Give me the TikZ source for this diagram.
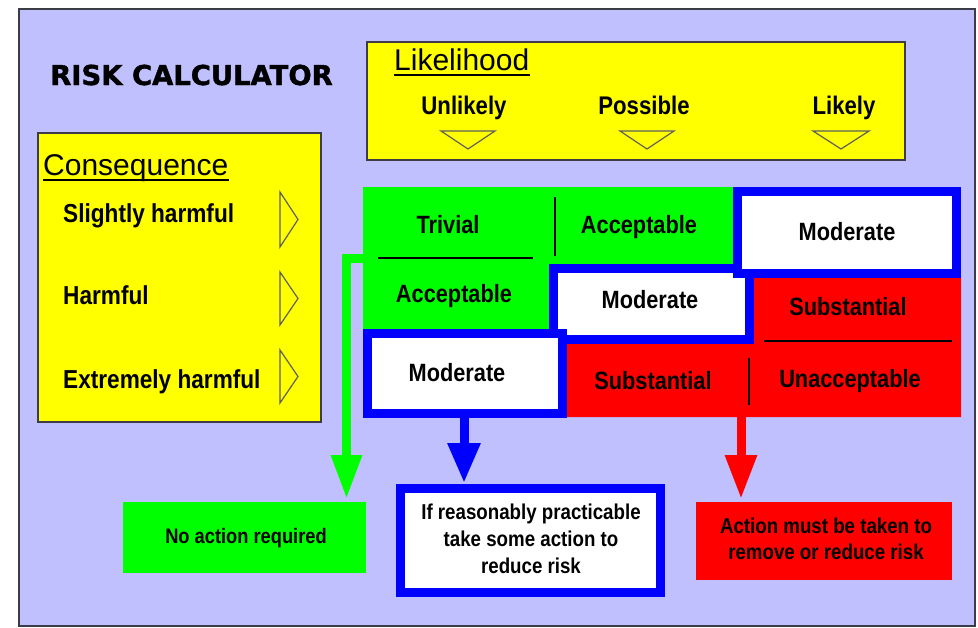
\documentclass[tikz,border=0pt]{standalone}
\usepackage{fontspec}
\setmainfont{Liberation Sans}
\newfontfamily\labfont{Liberation Sans}[FakeStretch=0.87]
\newfontfamily\titlefont{DejaVu Sans}[FakeBold=1.5]
\usetikzlibrary{arrows.meta}
\definecolor{lav}{RGB}{192,192,255}
\definecolor{pgreen}{RGB}{0,255,0}
\definecolor{pblue}{RGB}{0,0,255}
\definecolor{pred}{RGB}{255,0,0}
\definecolor{pyellow}{RGB}{255,255,0}
\definecolor{framec}{RGB}{60,60,70}
\definecolor{trig}{RGB}{95,95,95}
\tikzset{
  panel/.style={draw=framec, fill=pyellow, line width=1.5pt, inner sep=0pt, outer sep=0pt},
  modbox/.style={draw=pblue, fill=white, line width=9pt, inner sep=0pt, outer sep=4.5pt},
  plainbox/.style={inner sep=0pt, outer sep=0pt},
  cell/.style={anchor=base, inner sep=0pt, font=\labfont\bfseries\fontsize{25}{30}\selectfont},
  conlab/.style={anchor=base west, inner sep=0pt, font=\labfont\bfseries\fontsize{26}{30}\selectfont},
  liklab/.style={anchor=base, inner sep=0pt, font=\labfont\bfseries\fontsize{25.5}{30}\selectfont},
  bot/.style={anchor=base, inner sep=0pt, font=\labfont\bfseries\fontsize{21.5}{27}\selectfont},
  head/.style={anchor=base west, inner sep=0pt, font=\fontsize{30}{36}\selectfont},
  uline/.style={line width=2pt, draw=black},
  tri/.style={draw=trig, line width=1.2pt, line join=miter},
  divline/.style={draw=black, line width=1.5pt},
  garrow/.style={draw=pgreen, line width=9pt, line join=miter, -{Triangle[width=29pt,length=44pt]}, shorten >=3pt},
  barrow/.style={draw=pblue, line width=9pt, -{Triangle[width=31pt,length=40pt]}, shorten >=1pt},
  rarrow/.style={draw=pred, line width=9pt, -{Triangle[width=30pt,length=44pt]}, shorten >=3pt}
}
\begin{document}
\begin{tikzpicture}[x=1pt,y=-1pt]
\useasboundingbox (0,0) rectangle (978,627);
\fill[white] (0,0) rectangle (978,627);
\draw[fill=lav, draw=framec, line width=2pt] (19,9) rectangle (975,626);

% title
\node[anchor=base, inner sep=0pt, font=\titlefont\bfseries\fontsize{27.4}{32}\selectfont] (title) at (191.5,85) {RISK CALCULATOR};

% consequence panel
\node[panel, minimum width=283pt, minimum height=289pt] (conbox) at (179.5,277.5) {};
\node[head] (conhead) at (43,175) {Consequence};
\draw[uline] ([yshift=-5pt]conhead.base west) -- ([yshift=-5pt]conhead.base east);
\node[conlab] (slight) at (63,222) {Slightly harmful};
\node[conlab] (harm) at (63,304) {Harmful};
\node[conlab] (extreme) at (63,388) {Extremely harmful};
\draw[tri] (280,192) -- (298,219.5) -- (280,247) -- cycle;
\draw[tri] (280,272) -- (298,298.5) -- (280,325) -- cycle;
\draw[tri] (280,350) -- (298,376.5) -- (280,403) -- cycle;

% likelihood panel
\node[panel, minimum width=538pt, minimum height=118pt] (likbox) at (636,101) {};
\node[head] (likhead) at (394,70) {Likelihood};
\draw[uline] ([yshift=-5pt]likhead.base west) -- ([yshift=-5pt]likhead.base east);
\node[liklab] (unlikely) at (464,114) {Unlikely};
\node[liklab] (possible) at (644,114) {Possible};
\node[liklab] (likely) at (844,114) {Likely};
\draw[tri] (441,131) -- (495,131) -- (468,149) -- cycle;
\draw[tri] (620,131) -- (674,131) -- (647,149) -- cycle;
\draw[tri] (813,131) -- (869,131) -- (841,149) -- cycle;

% matrix regions
\fill[pgreen] (363,187) -- (733,187) -- (733,265) -- (549,265) -- (549,329) -- (363,329) -- cycle;
\fill[pred] (754,278) -- (961,278) -- (961,417) -- (567,417) -- (567,343) -- (754,343) -- cycle;
\node[modbox, minimum width=196pt, minimum height=71pt] (m2box) at (651.5,304) {};
\node[modbox, minimum width=219pt, minimum height=82pt] (m1box) at (847,232.5) {};
\node[modbox, minimum width=195pt, minimum height=80pt] (m3box) at (465,373.5) {};

\draw[divline] (555,197) -- (555,256);
\draw[divline] (378,258) -- (533,258);
\draw[divline] (764,341) -- (952,341);
\draw[divline] (749,358) -- (749,405);

\node[cell] (triv) at (448,233) {Trivial};
\node[cell] (acc1) at (639,233) {Acceptable};
\node[cell] (mod1) at (847,240) {Moderate};
\node[cell] (acc2) at (454,302) {Acceptable};
\node[cell] (mod2) at (650,308) {Moderate};
\node[cell] (sub2) at (848,315) {Substantial};
\node[cell] (mod3) at (457,381) {Moderate};
\node[cell] (sub3) at (653,389) {Substantial};
\node[cell] (unacc) at (850,387) {Unacceptable};

% outcome boxes
\node[plainbox, fill=pgreen, minimum width=243pt, minimum height=71pt] (noact) at (244.5,537.5) {};
\node[bot, font=\labfont\bfseries\fontsize{21}{27}\selectfont] (noacttxt) at (246,543) {No action required};
\node[modbox, minimum width=260pt, minimum height=104pt] (ifbox) at (530.5,540.5) {};
\node[bot] (if1) at (531,519) {If reasonably practicable};
\node[bot] (if2) at (531,546) {take some action to};
\node[bot] (if3) at (531,573) {reduce risk};
\node[plainbox, fill=pred, minimum width=256pt, minimum height=78pt] (actbox) at (824,541) {};
\node[bot] (act1) at (826,533) {Action must be taken to};
\node[bot] (act2) at (826,559) {remove or reduce risk};

% connectors
\coordinate (gstart) at (363,258.5);
\coordinate (gturn) at (346.5,258.5);
\draw[garrow] (gstart) -- (gturn) -- (gturn |- noact.north);
\coordinate (bstart) at (464,418);
\draw[barrow] (bstart) -- (bstart |- ifbox.north);
\coordinate (rstart) at (741,417);
\draw[rarrow] (rstart) -- (rstart |- actbox.north);
\end{tikzpicture}
\end{document}
